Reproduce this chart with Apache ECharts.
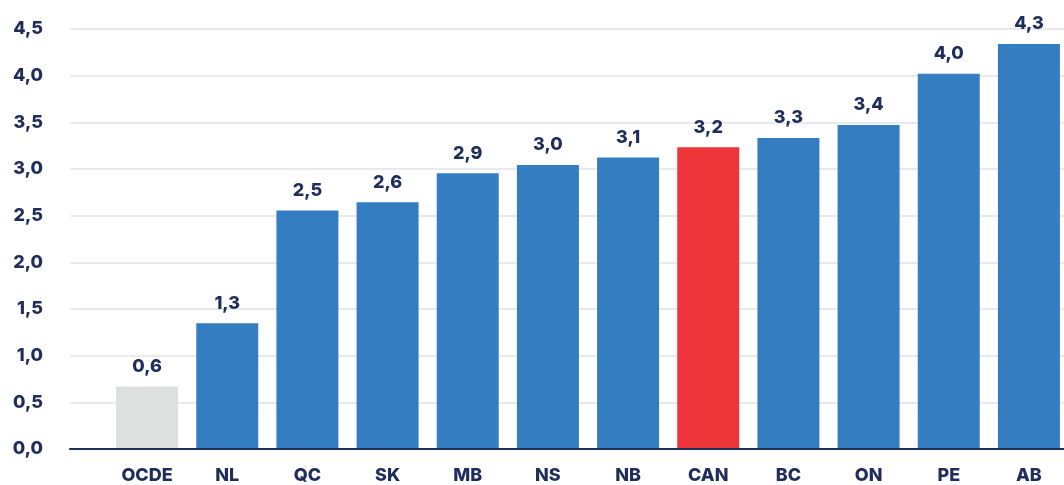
<!DOCTYPE html>
<html>
<head>
<meta charset="utf-8">
<script src="https://cdn.jsdelivr.net/npm/echarts@6/dist/echarts.min.js"></script>
<style>
  html, body { margin: 0; padding: 0; background: #fff; overflow: hidden; }
  /* a little wider than the window: the last bar sits near the right edge */
  #chart { width: 1074px; height: 485px; }
</style>
</head>
<body>
<div id="chart"></div>
<script>
const categories = ['OCDE', 'NL', 'QC', 'SK', 'MB', 'NS', 'NB', 'CAN', 'BC', 'ON', 'PE', 'AB'];
// bar heights
const values = [0.66, 1.34, 2.55, 2.64, 2.95, 3.04, 3.12, 3.23, 3.33, 3.47, 4.02, 4.34];
// printed labels above the bars
const valueLabels = ['0,6', '1,3', '2,5', '2,6', '2,9', '3,0', '3,1', '3,2', '3,3', '3,4', '4,0', '4,3'];
const yTicks = [0, 0.5, 1, 1.5, 2, 2.5, 3, 3.5, 4, 4.5];

const NAVY = '#1f2d5c';
const FONT = 'Inter';
const colorFor = c => c === 'OCDE' ? '#dde0df' : c === 'CAN' ? '#ee3539' : '#347dc1';

const chart = echarts.init(document.getElementById('chart'));
chart.setOption({
  animation: false,
  grid: [
    { left: 70, right: 0, top: 29, bottom: 36 },   // frame: gridlines + baseline
    { left: 107, right: 5, top: 29, bottom: 36 },  // bars
  ],
  xAxis: [
    { type: 'category', gridIndex: 0, data: [''],
      axisLine: { lineStyle: { color: NAVY, width: 2 } },
      axisTick: { show: false }, axisLabel: { show: false } },
    { type: 'category', gridIndex: 1, data: categories,
      axisLine: { show: false }, axisTick: { show: false },
      axisLabel: { color: NAVY, fontFamily: FONT, fontWeight: 800, fontSize: 18, margin: 19 } },
  ],
  yAxis: [
    { type: 'value', gridIndex: 0, min: yTicks[0], max: yTicks[yTicks.length - 1], interval: 0.5,
      axisLine: { show: false }, axisTick: { show: false },
      splitLine: { lineStyle: { color: '#e2e2ea', width: 1.5 } },
      axisLabel: { color: NAVY, fontFamily: FONT, fontWeight: 800, fontSize: 18, margin: 27,
        formatter: v => v.toFixed(1).replace('.', ',') } },
    { type: 'value', gridIndex: 1, min: yTicks[0], max: yTicks[yTicks.length - 1], interval: 0.5,
      axisLine: { show: false }, axisTick: { show: false },
      splitLine: { show: false }, axisLabel: { show: false } },
  ],
  series: [{
    type: 'bar', xAxisIndex: 1, yAxisIndex: 1, barWidth: 62,
    data: values.map((v, i) => ({ value: v, itemStyle: { color: colorFor(categories[i]) } })),
    label: { show: true, position: 'top', distance: 11, color: NAVY, fontFamily: FONT,
      fontWeight: 800, fontSize: 18, formatter: p => valueLabels[p.dataIndex] },
  }],
});
</script>
</body>
</html>
